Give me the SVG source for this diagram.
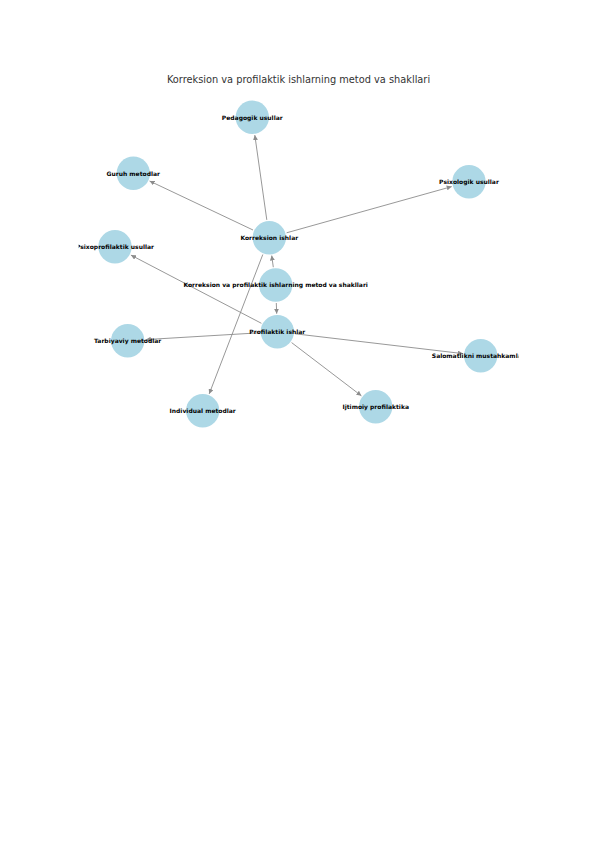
<svg xmlns="http://www.w3.org/2000/svg" width="596" height="842" viewBox="0 0 596 842">
<style>
.node circle{fill:#ADD8E6;stroke:none}
.node text{font-family:"DejaVu Sans",sans-serif;font-weight:bold;font-size:6px;fill:#000;text-anchor:middle}
.edge{stroke:#8c8c8c;stroke-width:0.9;fill:none;marker-end:url(#arr)}
.title{font-family:"DejaVu Sans",sans-serif;font-size:9.8px;fill:#333;text-anchor:middle}
</style>
<defs>
<marker id="arr" viewBox="0 0 10 10" refX="10" refY="5" markerWidth="5" markerHeight="5" orient="auto" markerUnits="userSpaceOnUse">
<path d="M0,0 L10,5 L0,10 z" fill="#8c8c8c"/>
</marker>
<clipPath id="ax"><rect x="78.5" y="88" width="440" height="350"/></clipPath>
</defs>
<rect width="596" height="842" fill="#fff"/>
<text class="title" x="298.5" y="83">Korreksion va profilaktik ishlarning metod va shakllari</text>
<g id="connectors">
<line class="edge" x1="266.8" y1="219.9" x2="254.8" y2="135.1"/>
<line class="edge" x1="253.0" y1="230.0" x2="149.6" y2="181.0"/>
<line class="edge" x1="286.6" y1="232.8" x2="451.7" y2="186.6"/>
<line class="edge" x1="262.8" y1="254.5" x2="209.2" y2="393.9"/>
<line class="edge" x1="273.3" y1="267.2" x2="271.7" y2="255.5"/>
<line class="edge" x1="276.3" y1="303.0" x2="276.7" y2="313.7"/>
<line class="edge" x1="261.4" y1="323.3" x2="130.9" y2="255.1"/>
<line class="edge" x1="259.3" y1="332.8" x2="145.7" y2="339.6"/>
<line class="edge" x1="295.2" y1="333.8" x2="462.8" y2="353.6"/>
<line class="edge" x1="291.6" y1="342.6" x2="361.4" y2="395.8"/>
</g>
<g id="node-pedagogik" class="node"><circle cx="252.3" cy="117.3" r="16.7"/><text x="252.3" y="119.5" clip-path="url(#ax)">Pedagogik usullar</text></g>
<g id="node-guruh" class="node"><circle cx="133.3" cy="173.3" r="16.7"/><text x="133.3" y="175.5" clip-path="url(#ax)">Guruh metodlar</text></g>
<g id="node-psixologik" class="node"><circle cx="469" cy="181.7" r="16.7"/><text x="469" y="183.9" clip-path="url(#ax)">Psixologik usullar</text></g>
<g id="node-korreksion" class="node"><circle cx="269.3" cy="237.7" r="16.7"/><text x="269.3" y="239.9" clip-path="url(#ax)">Korreksion ishlar</text></g>
<g id="node-psixoprofilaktik" class="node"><circle cx="115" cy="246.7" r="16.7"/><text x="115" y="248.9" clip-path="url(#ax)">Psixoprofilaktik usullar</text></g>
<g id="node-center" class="node"><circle cx="275.7" cy="285" r="16.7"/><text x="275.7" y="287.2" clip-path="url(#ax)">Korreksion va profilaktik ishlarning metod va shakllari</text></g>
<g id="node-profilaktik" class="node"><circle cx="277.3" cy="331.7" r="16.7"/><text x="277.3" y="333.9" clip-path="url(#ax)">Profilaktik ishlar</text></g>
<g id="node-tarbiyaviy" class="node"><circle cx="127.7" cy="340.7" r="16.7"/><text x="127.7" y="342.9" clip-path="url(#ax)">Tarbiyaviy metodlar</text></g>
<g id="node-salomatlik" class="node"><circle cx="480.7" cy="355.7" r="16.7"/><text x="480.7" y="357.9" clip-path="url(#ax)">Salomatlikni mustahkamlash</text></g>
<g id="node-individual" class="node"><circle cx="202.7" cy="410.7" r="16.7"/><text x="202.7" y="412.9" clip-path="url(#ax)">Individual metodlar</text></g>
<g id="node-ijtimoiy" class="node"><circle cx="375.7" cy="406.7" r="16.7"/><text x="375.7" y="408.9" clip-path="url(#ax)">Ijtimoiy profilaktika</text></g>
</svg>
